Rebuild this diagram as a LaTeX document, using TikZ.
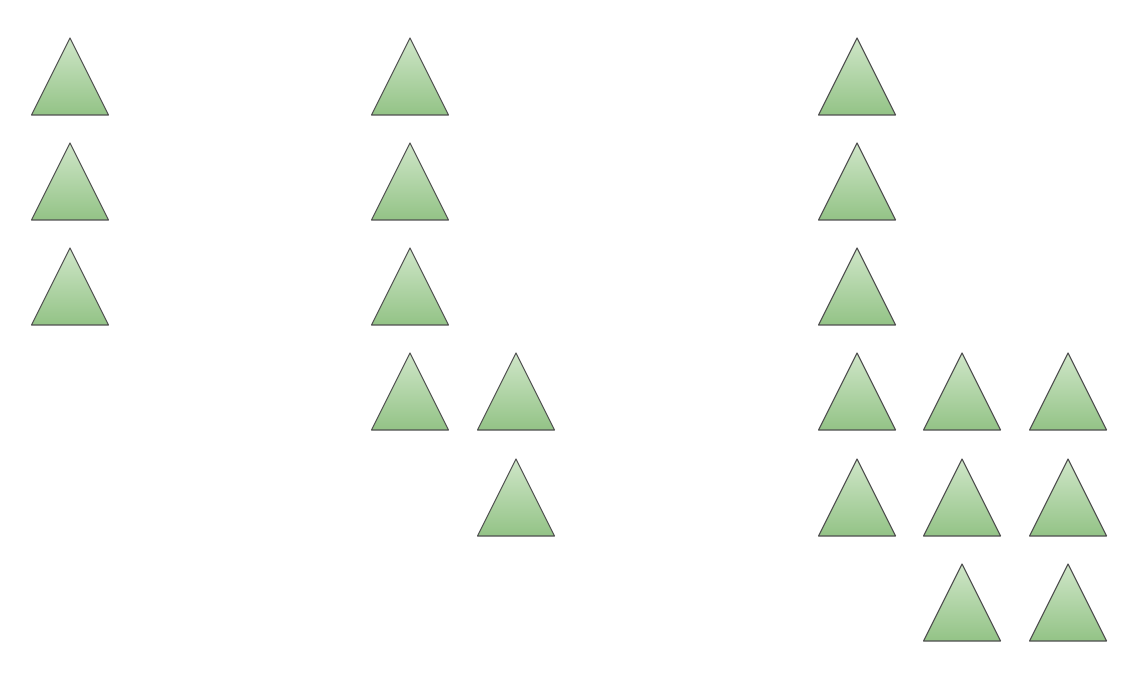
\documentclass[tikz,border=0pt]{standalone}
\usetikzlibrary{shapes.geometric}
\definecolor{treetop}{HTML}{CFE6C8}
\definecolor{treebot}{HTML}{93C386}
\definecolor{treeline}{HTML}{505050}
\begin{document}
\begin{tikzpicture}[x=1pt,y=1pt,
    tree/.style={draw=treeline, line width=1.1pt, line join=round, top color=treetop, bottom color=treebot}]
    \useasboundingbox (0,0) rectangle (1142,678);
    % apex x / apex y (from the top)
    \foreach \px/\py in {70/38, 70/143, 70/248,
        410/38, 410/143, 410/248, 410/353, 516/353, 516/459,
        857/38, 857/143, 857/248, 857/353, 857/459,
        962/353, 962/459, 962/564, 1068/353, 1068/459, 1068/564}
    {
        \path[tree] (\px,678-\py) -- (\px+38.5,678-\py-77) -- (\px-38.5,678-\py-77) -- cycle;
    }
\end{tikzpicture}
\end{document}
